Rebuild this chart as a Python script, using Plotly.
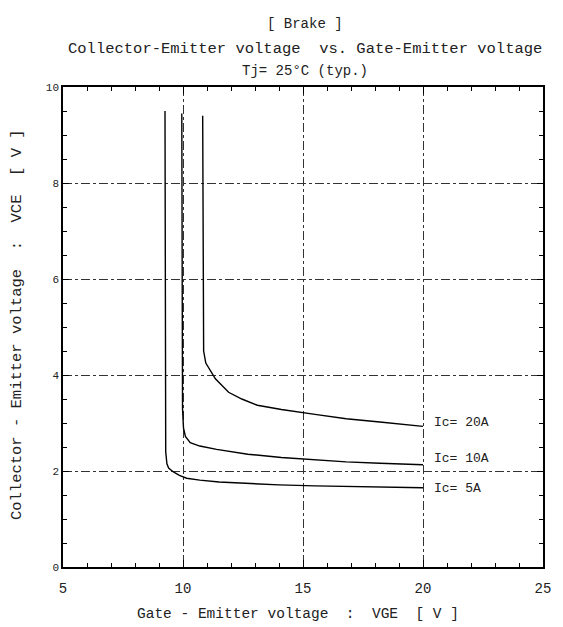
import plotly.graph_objects as go

# Data
ic5_vge = [9.25, 9.26, 9.28, 9.33, 9.40, 9.60, 9.85, 10.15, 10.7, 11.5, 12.7, 14.0, 15.5, 17.0, 18.5, 20.0]
ic5_vce = [9.5, 5.0, 2.4, 2.15, 2.06, 1.98, 1.91, 1.85, 1.81, 1.77, 1.74, 1.71, 1.69, 1.68, 1.67, 1.65]

ic10_vge = [9.95, 9.96, 9.98, 10.02, 10.1, 10.3, 10.7, 11.4, 12.7, 14.1, 15.5, 16.8, 18.2, 20.0]
ic10_vce = [9.45, 5.0, 3.3, 2.9, 2.72, 2.59, 2.52, 2.45, 2.35, 2.28, 2.23, 2.19, 2.16, 2.13]

ic20_vge = [10.82, 10.83, 10.86, 10.95, 11.1, 11.35, 11.9, 12.45, 13.1, 14.1, 15.5, 16.8, 18.2, 20.0]
ic20_vce = [9.4, 6.0, 4.5, 4.25, 4.12, 3.92, 3.64, 3.50, 3.37, 3.28, 3.18, 3.09, 3.02, 2.93]

curve_labels = ["Ic= 5A", "Ic= 10A", "Ic= 20A"]
label_x = 20.38
label_y = [1.63, 2.26, 3.01]

x_ticks = [5, 10, 15, 20, 25]
y_ticks = [0, 2, 4, 6, 8, 10]

title_lines = ["[ Brake ]",
               "Collector-Emitter voltage  vs. Gate-Emitter voltage",
               "Tj= 25°C (typ.)"]
x_title = "Gate - Emitter voltage  :  VGE  [ V ]"
y_title = "Collector - Emitter voltage  :  VCE  [ V ]"

FONT = "Liberation Mono"
INK = "#222222"

fig = go.Figure()
for xs, ys, name in [(ic5_vge, ic5_vce, curve_labels[0]),
                     (ic10_vge, ic10_vce, curve_labels[1]),
                     (ic20_vge, ic20_vce, curve_labels[2])]:
    fig.add_trace(go.Scatter(x=xs, y=ys, mode="lines", name=name,
                             line=dict(color="black", width=1.4),
                             showlegend=False))

for txt, yv in zip(curve_labels, label_y):
    fig.add_annotation(x=label_x, y=yv, text=txt, showarrow=False,
                       xanchor="left", yanchor="middle",
                       font=dict(family=FONT, size=13, color=INK))

# Title lines (pixel offsets above the plot top)
for txt, shift, size in zip(title_lines, [63, 38, 16], [14, 15.5, 14]):
    fig.add_annotation(xref="paper", yref="paper", x=0.505, y=1.0,
                       yshift=shift, xanchor="center", yanchor="middle",
                       text=txt, showarrow=False,
                       font=dict(family=FONT, size=size, color=INK))

# Axis titles
fig.add_annotation(xref="paper", yref="paper", x=0.0, y=0.504, xshift=-46,
                   xanchor="center", yanchor="middle", textangle=-90,
                   text=y_title, showarrow=False,
                   font=dict(family=FONT, size=15.5, color=INK))
fig.add_annotation(xref="paper", yref="paper", x=0.49, y=0.0, yshift=-47,
                   xanchor="center", yanchor="middle",
                   text=x_title, showarrow=False,
                   font=dict(family=FONT, size=14.5, color=INK))

fig.update_layout(
    width=563, height=627,
    margin=dict(l=63, r=13, t=87, b=60),
    paper_bgcolor="white", plot_bgcolor="white",
    font=dict(family=FONT, color=INK),
)

fig.update_xaxes(
    range=[5, 25], tickvals=x_ticks, ticktext=[str(v) for v in x_ticks],
    showline=True, linecolor="black", linewidth=1.5, mirror="ticks",
    ticks="inside", ticklen=7, tickcolor="black", tickwidth=1.2,
    minor=dict(dtick=1, ticks="inside", ticklen=4, tickcolor="black", showgrid=False),
    showgrid=True, gridcolor="#333333", gridwidth=0.8, griddash="dashdot",
    zeroline=False, ticklabelstandoff=7,
    tickfont=dict(family=FONT, size=14, color=INK),
)
fig.update_yaxes(
    range=[0, 10], tickvals=y_ticks, ticktext=[str(v) for v in y_ticks],
    showline=True, linecolor="black", linewidth=1.5, mirror="ticks",
    ticks="inside", ticklen=6, tickcolor="black", tickwidth=1.2,
    minor=dict(dtick=0.5, ticks="inside", ticklen=4, tickcolor="black", showgrid=False),
    showgrid=True, gridcolor="#333333", gridwidth=0.8, griddash="dashdot",
    zeroline=False,
    tickfont=dict(family=FONT, size=11, color=INK),
)

fig.write_html("out.html", config={"displayModeBar": False},
               post_script="document.body.style.margin='0px';")
